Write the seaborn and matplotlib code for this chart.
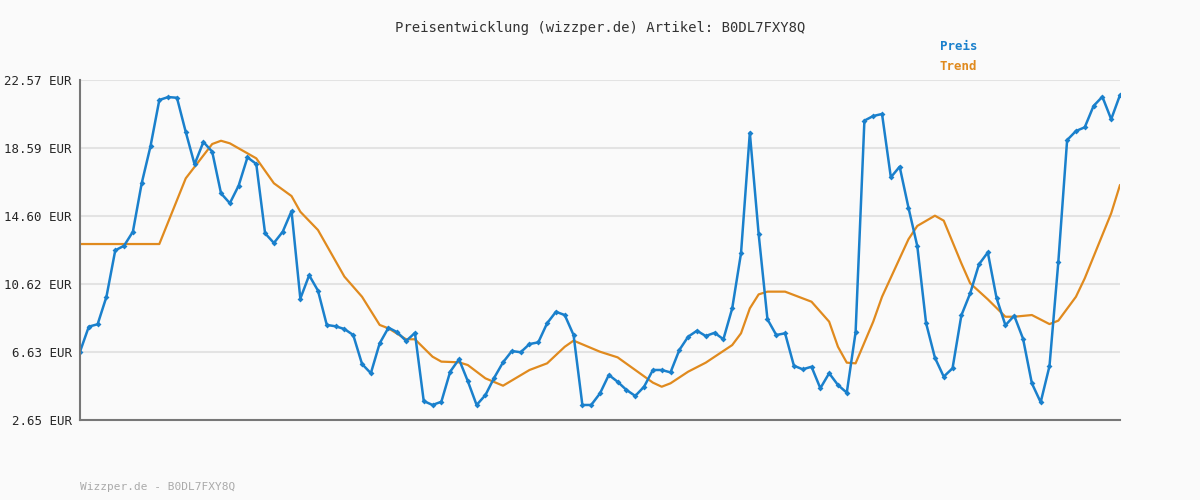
import matplotlib
matplotlib.use("Agg")
import matplotlib.pyplot as plt
import seaborn as sns
import pandas as pd

preis = [6.65, 8.12, 8.26, 9.87, 12.59, 12.86, 13.68, 16.52, 18.69, 21.40,
         21.57, 21.53, 19.52, 17.63, 18.94, 18.37, 15.93, 15.35, 16.38, 18.04,
         17.65, 13.59, 13.02, 13.68, 14.89, 9.76, 11.13, 10.23, 8.22, 8.14,
         7.98, 7.63, 5.93, 5.39, 7.14, 8.06, 7.79, 7.28, 7.75, 3.76,
         3.53, 3.72, 5.48, 6.21, 4.93, 3.53, 4.11, 5.13, 6.03, 6.69,
         6.62, 7.10, 7.20, 8.32, 8.99, 8.80, 7.63, 3.53, 3.53, 4.21,
         5.29, 4.89, 4.41, 4.06, 4.60, 5.58, 5.58, 5.44, 6.75, 7.53,
         7.88, 7.57, 7.76, 7.38, 9.19, 12.42, 19.48, 13.55, 8.55, 7.63,
         7.73, 5.83, 5.62, 5.77, 4.51, 5.39, 4.70, 4.25, 7.79, 20.19,
         20.46, 20.58, 16.87, 17.49, 15.09, 12.84, 8.32, 6.30, 5.19, 5.68,
         8.78, 10.07, 11.77, 12.47, 9.78, 8.20, 8.76, 7.41, 4.80, 3.69,
         5.81, 11.89, 19.05, 19.58, 19.80, 21.05, 21.59, 20.27, 21.69]

trend_idx = [0, 9, 12, 15, 16, 17, 20, 22, 24, 25, 27, 30, 32, 34, 35, 37, 38, 40,
             41, 43, 44, 46, 48, 51, 53, 55, 56, 59, 61, 63, 65, 66, 67, 69, 71,
             74, 75, 76, 77, 78, 80, 83, 85, 86, 87, 88, 90, 91, 94, 95, 97, 98,
             100, 101, 103, 105, 106, 108, 110, 111, 113, 114, 117, 118]
trend = [12.96, 12.96, 16.81, 18.82, 19.01, 18.86, 17.98, 16.52, 15.77, 14.85,
         13.78, 11.05, 9.87, 8.22, 8.02, 7.38, 7.38, 6.36, 6.07, 6.03, 5.87,
         5.09, 4.66, 5.58, 5.97, 6.94, 7.30, 6.65, 6.32, 5.58, 4.84, 4.60,
         4.80, 5.48, 6.01, 7.04, 7.73, 9.19, 10.01, 10.17, 10.17, 9.58, 8.41,
         6.94, 6.01, 5.97, 8.41, 9.87, 13.24, 14.02, 14.62, 14.33, 11.83,
         10.66, 9.72, 8.70, 8.70, 8.80, 8.27, 8.47, 9.87, 10.95, 14.76, 16.42]

yticks = [2.65, 6.63, 10.62, 14.60, 18.59, 22.57]

blue = "#1a80cc"
orange = "#e08a1e"
mono = "DejaVu Sans Mono"

df_p = pd.DataFrame({"idx": range(len(preis)), "preis": preis})
df_t = pd.DataFrame({"idx": trend_idx, "trend": trend})

sns.set_style("white")
fig = plt.figure(figsize=(12, 5), dpi=100, facecolor="#fafafa")
ax = fig.add_axes([80 / 1200, 80 / 500, 1040 / 1200, 340 / 500])
ax.set_facecolor("#fafafa")

sns.lineplot(data=df_t, x="idx", y="trend", ax=ax, color=orange, linewidth=1.6)
sns.lineplot(data=df_p, x="idx", y="preis", ax=ax, color=blue, linewidth=1.8,
             marker="D", markersize=3, markeredgewidth=0)

ax.set_xlim(0, len(preis) - 1)
ax.set_ylim(yticks[0], yticks[-1])
ax.set_yticks(yticks)
ax.set_yticklabels([f"{v:.2f} EUR" for v in yticks], fontfamily=mono, fontsize=9)
ax.set_xticks([])
ax.set_xlabel("")
ax.set_ylabel("")
ax.yaxis.grid(True, color="#e3e3e3", linewidth=1.5)
ax.tick_params(axis="y", length=4, color="#777777", pad=2)
for s in ["top", "right"]:
    ax.spines[s].set_visible(False)
for s in ["left", "bottom"]:
    ax.spines[s].set_color("#777777")
    ax.spines[s].set_linewidth(1.5)

fig.text(0.5, 1 - 28 / 500, "Preisentwicklung (wizzper.de) Artikel: B0DL7FXY8Q",
         ha="center", va="center", fontfamily=mono, fontsize=10, color="#333333")
fig.text(940 / 1200, 1 - 47 / 500, "Preis", ha="left", va="center",
         fontfamily=mono, fontsize=9, fontweight="bold", color=blue)
fig.text(940 / 1200, 1 - 67 / 500, "Trend", ha="left", va="center",
         fontfamily=mono, fontsize=9, fontweight="bold", color=orange)
fig.text(80 / 1200, 1 - 487 / 500, "Wizzper.de - B0DL7FXY8Q", ha="left", va="center",
         fontfamily=mono, fontsize=8, color="#aaaaaa")

fig.savefig("out.png", dpi=100, facecolor=fig.get_facecolor())
